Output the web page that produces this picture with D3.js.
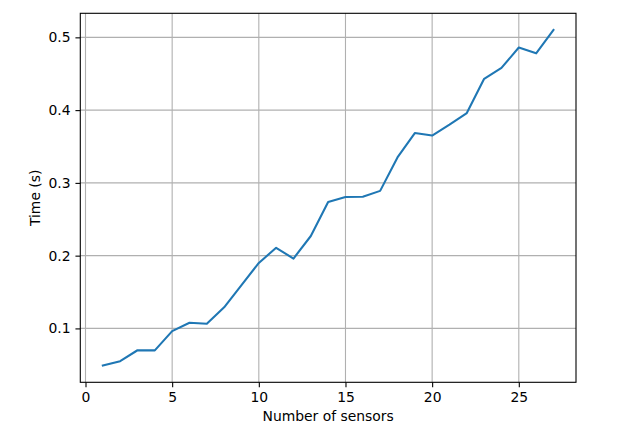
<!DOCTYPE html>
<html>
<head>
<meta charset="utf-8">
<script src="https://cdn.jsdelivr.net/npm/d3@7"></script>
<style>
  body { margin: 0; background: #fff; }
  svg text { font-family: "DejaVu Sans", sans-serif; fill: #000; }
</style>
</head>
<body>
<svg id="chart" width="640" height="435"></svg>
<script>
// number of sensors and measured time
var sensors = [1, 2, 3, 4, 5, 6, 7, 8, 9, 10, 11, 12, 13, 14, 15, 16, 17, 18, 19, 20, 21, 22, 23, 24, 25, 26, 27];
var times = [0.049, 0.055, 0.070, 0.0698, 0.0963, 0.1077, 0.1063, 0.129, 0.1595, 0.190, 0.2108, 0.196,
             0.227, 0.2736, 0.2805, 0.281, 0.289, 0.335, 0.3685, 0.365, 0.380, 0.396, 0.443, 0.458, 0.486, 0.478, 0.510];
var xTicks = [0, 5, 10, 15, 20, 25];
var yTicks = [0.1, 0.2, 0.3, 0.4, 0.5];

var svg = d3.select("svg#chart");
var margin = {top: 13.3, right: 64, bottom: 52.7, left: 80.3};
var width = 640 - margin.left - margin.right,
    height = 435 - margin.top - margin.bottom;

// matplotlib style 5% padding on both axes
function padded(ext) {
    var pad = (ext[1] - ext[0]) * 0.05;
    return [ext[0] - pad, ext[1] + pad];
}

var x = d3.scaleLinear().domain(padded(d3.extent(sensors))).range([0, width]);
var y = d3.scaleLinear().domain(padded(d3.extent(times))).range([height, 0]);

var plot = svg.append("g")
    .attr("transform", "translate(" + margin.left + "," + margin.top + ")");

// grid
plot.append("g").selectAll("line")
    .data(xTicks).enter().append("line")
    .attr("x1", d => x(d)).attr("x2", d => x(d))
    .attr("y1", 0).attr("y2", height)
    .attr("stroke", "#b0b0b0").attr("stroke-width", 1.1);
plot.append("g").selectAll("line")
    .data(yTicks).enter().append("line")
    .attr("x1", 0).attr("x2", width)
    .attr("y1", d => y(d)).attr("y2", d => y(d))
    .attr("stroke", "#b0b0b0").attr("stroke-width", 1.1);

// line
var line = d3.line()
    .x((d, i) => x(sensors[i]))
    .y(d => y(d));
plot.append("path")
    .datum(times)
    .attr("d", line)
    .attr("fill", "none")
    .attr("stroke", "#1f77b4")
    .attr("stroke-width", 2.08)
    .attr("stroke-linejoin", "round")
    .attr("stroke-linecap", "square");

// axes
var xAxis = d3.axisBottom(x).tickValues(xTicks).tickSize(4.86).tickPadding(4.86).tickFormat(d3.format("d"));
var yAxis = d3.axisLeft(y).tickValues(yTicks).tickSize(4.86).tickPadding(4.86).tickFormat(d3.format(".1f"));

var xg = plot.append("g").attr("transform", "translate(0," + height + ")").call(xAxis);
var yg = plot.append("g").call(yAxis);
[xg, yg].forEach(function (g) {
    g.select(".domain").remove();
    g.selectAll(".tick line").attr("stroke", "#000").attr("stroke-width", 1.1);
    g.selectAll(".tick text").style("font-size", "13.9px").attr("fill", "#000");
});

// frame
plot.append("rect")
    .attr("width", width).attr("height", height)
    .attr("fill", "none").attr("stroke", "#000").attr("stroke-width", 1.1);

// labels
svg.append("text")
    .attr("x", margin.left + width / 2)
    .attr("y", 421)
    .attr("text-anchor", "middle")
    .style("font-size", "13.9px")
    .text("Number of sensors");

svg.append("text")
    .attr("transform", "translate(40," + (margin.top + height / 2) + ") rotate(-90)")
    .attr("text-anchor", "middle")
    .style("font-size", "13.9px")
    .text("Time (s)");
</script>
</body>
</html>
